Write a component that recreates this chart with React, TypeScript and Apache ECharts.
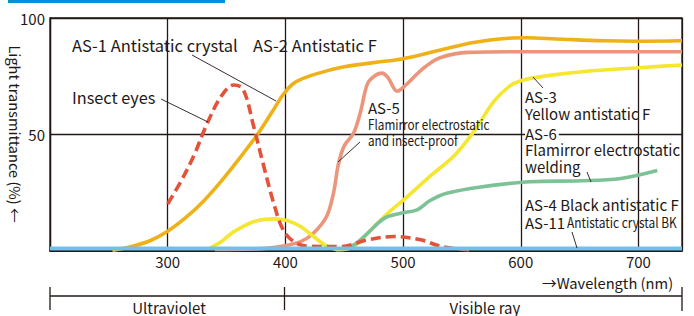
import React, { useEffect, useRef } from "react";
import * as echarts from "echarts";

// ---- data (wavelength nm, transmittance %) ----
const xTicks = [300, 400, 500, 600, 700];
const yTicks = [50, 100];

const as1as2: [number, number][] = [
  [253, 0], [270, 1.8], [285, 4.2], [300, 8.3], [315, 14], [330, 21],
  [345, 29.5], [360, 39], [375, 49], [388, 59], [398, 67], [406, 71.5],
  [415, 74], [430, 76.5], [450, 79], [475, 80.8], [500, 82.5], [530, 86],
  [560, 89.5], [590, 91.3], [605, 91.5], [630, 91], [670, 90.2], [700, 90],
  [737, 90.2],
];
const insectEyes: [number, number][] = [
  [300, 20], [311, 29.5], [322, 40.5], [333, 54], [345, 66], [356, 71.2],
  [364, 69.5], [373, 53.5], [381, 37.5], [390, 20.5], [398, 9], [408, 3.5],
  [420, 1.8], [447, 1.7], [470, 4.6], [492, 6], [515, 4.6], [532, 1.8], [560, 0],
];
const as3: [number, number][] = [
  [336, 1], [346, 4], [356, 8], [373, 12.4], [390, 13.6], [402, 12.8],
  [413, 10.3], [424, 6], [435, 2], [446, 0.3], [458, 1.7], [472, 8.5],
  [487, 16], [501, 22], [523, 32], [543, 40.5], [560, 51], [577, 64],
  [590, 70.5], [600, 73], [620, 75], [654, 77], [700, 78.6], [737, 79.8],
];
const as5: [number, number][] = [
  [340, 0.5], [380, 0.8], [396, 1.7], [413, 3.8], [424, 7.5], [435, 14.6],
  [441, 25], [445, 37], [450, 45], [458, 50.5], [464, 60], [470, 72],
  [477, 75.5], [482, 76.3], [487, 74.5], [495, 68.5], [503, 71.5], [512, 76],
  [520, 79.5], [532, 83], [555, 85.2], [600, 85.5], [737, 85.5],
];
const as6: [number, number][] = [
  [452, 0.8], [460, 3], [470, 7.5], [484, 13.8], [498, 16], [512, 17.5],
  [523, 21.5], [537, 24.6], [566, 27.3], [608, 29.6], [651, 30], [685, 31],
  [716, 34.4],
];
const as4as11: [number, number][] = [[200, 0.9], [737, 0.9]];

const INK = "#231815";
const FONT = "'Noto Sans CJK JP', 'Noto Sans', sans-serif";

function txt(x: number, y: number, text: string, opts: any = {}) {
  const size = opts.size || 15;
  return {
    type: "text",
    x,
    y,
    z: 100,
    ...(opts.scaleX ? { scaleX: opts.scaleX } : {}),
    style: {
      text,
      fill: INK,
      font: `${size}px ${FONT}`,
      lineHeight: opts.lh || Math.round(size * 1.05),
      align: opts.align || "left",
      verticalAlign: "middle",
      ...(opts.rich ? { rich: opts.rich } : {}),
    },
    ...(opts.rotation !== undefined ? { rotation: opts.rotation } : {}),
  };
}
function seg(x1: number, y1: number, x2: number, y2: number, w = 0.9) {
  return {
    type: "line",
    z: 100,
    shape: { x1, y1, x2, y2 },
    style: { stroke: INK, lineWidth: w },
  };
}

export default function App() {
  const ref = useRef<HTMLDivElement>(null);
  useEffect(() => {
    const chart = echarts.init(ref.current!, undefined, { renderer: "svg" });
    const line = (name: string, data: [number, number][], color: string, extra: any = {}) => ({
      name,
      type: "line",
      data,
      smooth: 0.35,
      showSymbol: false,
      symbol: "none",
      lineStyle: { color, width: 3.6, ...extra },
      z: 3,
    });
    chart.setOption({
      animation: false,
      grid: {
        left: 50, right: 12, top: 18, bottom: 65.5,
        show: true, borderColor: INK, borderWidth: 1.3,
      },
      xAxis: {
        type: "value",
        min: 200,
        max: 737,
        interval: 100,
        axisLine: { show: true, lineStyle: { color: INK, width: 1.8 } },
        axisTick: { show: false },
        splitLine: { show: true, lineStyle: { color: INK, width: 1.3 } },
        axisLabel: {
          color: INK,
          fontSize: 15,
          fontFamily: FONT,
          margin: 3,
          formatter: (v: number) => (xTicks.includes(v) ? String(v) : ""),
        },
      },
      yAxis: {
        type: "value",
        min: 0,
        max: 100,
        interval: 50,
        axisLine: { show: true, lineStyle: { color: INK, width: 1.3 } },
        axisTick: { show: false },
        splitLine: { show: true, lineStyle: { color: INK, width: 1.3 } },
        axisLabel: {
          color: INK,
          fontSize: 15,
          fontFamily: FONT,
          margin: 5,
          formatter: (v: number) => (yTicks.includes(v) ? String(v) : ""),
        },
      },
      series: [
        line("AS-1/AS-2", as1as2, "#efb118"),
        line("AS-5", as5, "#eb957a"),
        line("AS-3", as3, "#f5e630"),
        line("AS-6", as6, "#7dc296"),
        line("Insect eyes", insectEyes, "#e4523a", { type: [10, 5] }),
        line("AS-4/AS-11", as4as11, "#6fc1ea", { width: 4 }),
      ],
      graphic: [
        { type: "rect", shape: { x: 8, y: 0, width: 217, height: 3 }, style: { fill: "#0092d8" } },
        txt(15, 134, "Light transmittance (%) ←", { size: 14.6, rotation: -Math.PI / 2, align: "center" }),
        txt(72, 45, "AS-1 Antistatic crystal", { size: 16.5 }),
        seg(192, 55, 276, 101),
        txt(253, 45, "AS-2 Antistatic F", { size: 16.5 }),
        txt(72, 97, "Insect eyes", { size: 16.3 }),
        seg(161, 99, 208, 122),
        txt(368, 107, "AS-5"),
        txt(368, 132, "Flamirror electrostatic\nand insect-proof", { size: 14, lh: 16.5, scaleX: 0.84 }),
        seg(360, 142, 338, 162),
        txt(525, 105, "AS-3\nYellow antistatic F", { lh: 16.5 }),
        seg(533, 77, 543, 88),
        txt(525, 149.5, "{a|AS-6}\nFlamirror electrostatic\nwelding", {
          lh: 16.5,
          rich: {
            a: { backgroundColor: "#fff", padding: [0, 2, 0, 0], fontSize: 15, fontFamily: FONT, color: INK, lineHeight: 16.5 },
          },
        }),
        seg(587, 172, 591, 182),
        txt(525, 204, "AS-4 Black antistatic F", { size: 15 }),
        txt(525, 222, "AS-11"),
        txt(567, 222, "Antistatic crystal BK", { size: 14, scaleX: 0.85 }),
        seg(572, 232, 577, 248),
        txt(542, 282, "→Wavelength (nm)", { size: 14.7 }),
        seg(50, 296, 682, 296, 1.3),
        seg(50, 287, 50, 310, 1.3),
        seg(284.5, 287, 284.5, 310, 1.3),
        seg(682, 287, 682, 311, 1.3),
        txt(169, 307, "Ultraviolet", { align: "center" }),
        txt(485, 307, "Visible ray", { align: "center" }),
      ],
    });
    return () => chart.dispose();
  }, []);
  return (
    <div
      ref={ref}
      style={{ position: "fixed", left: 0, top: 0, width: 694, height: 316, background: "#fff" }}
    />
  );
}
